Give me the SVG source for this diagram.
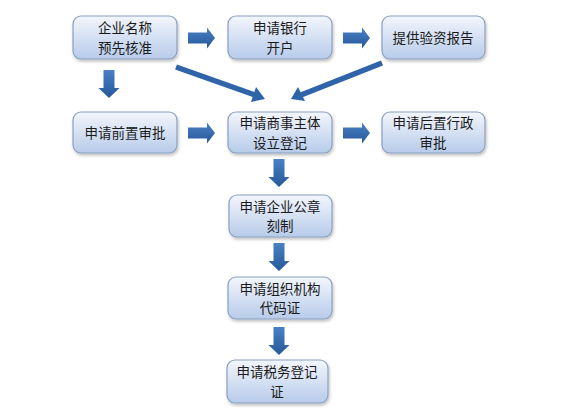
<svg xmlns="http://www.w3.org/2000/svg" width="566" height="414" viewBox="0 0 566 414">
<defs>
<linearGradient id="bg" x1="0" y1="0" x2="0" y2="1">
<stop offset="0" stop-color="#f3f6fc"/>
<stop offset="1" stop-color="#b7cbea"/>
</linearGradient>
<linearGradient id="ag" x1="0" y1="0" x2="0" y2="1">
<stop offset="0" stop-color="#4a80c4"/>
<stop offset="1" stop-color="#25589a"/>
</linearGradient>
<filter id="sh" x="-10%" y="-10%" width="130%" height="140%">
<feDropShadow dx="1" dy="2" stdDeviation="1.5" flood-color="#000" flood-opacity="0.25"/>
</filter>
<path id="ar" d="M0,-5.5 H19 V-10.5 L27,0 L19,10.5 V5.5 H0 Z"/>
<path id="ad" d="M-5.5,0 V18 H-10.5 L0,28 L10.5,18 H5.5 V0 Z"/>
</defs>
<style>
rect.b{fill:url(#bg);stroke:#8aa0c0;stroke-width:1.2;filter:url(#sh)}
text{font-family:"Noto Sans CJK SC","Noto Sans",sans-serif;font-size:13.5px;fill:#1a1a1a;text-anchor:middle}
.a{fill:url(#ag)}
.d{stroke:#2f64a8;stroke-width:5.5;fill:none}
.h{fill:#2f64a8}
</style>
<rect width="566" height="414" fill="#fff"/>
<g id="connectors">
<use href="#ar" class="a" x="188" y="38"/>
<use href="#ar" class="a" x="343" y="38"/>
<use href="#ar" class="a" x="188" y="133"/>
<use href="#ar" class="a" x="343" y="133"/>
<use href="#ad" class="a" x="109" y="70"/>
<use href="#ad" class="a" x="279" y="159"/>
<use href="#ad" class="a" x="279" y="243"/>
<use href="#ad" class="a" x="279" y="327"/>
<line class="d" x1="176" y1="67" x2="255" y2="95"/>
<polygon class="h" points="265,99 251,102 256,87"/>
<line class="d" x1="382" y1="63" x2="301" y2="95"/>
<polygon class="h" points="291,99 298,87 305,101"/>
</g>
<g id="n1"><rect class="b" x="73" y="16" width="104" height="43" rx="8"/><text x="125" y="33">企业名称</text><text x="125" y="52.5">预先核准</text></g>
<g id="n2"><rect class="b" x="228" y="16" width="104" height="43" rx="8"/><text x="280" y="33">申请银行</text><text x="280" y="52.5">开户</text></g>
<g id="n3"><rect class="b" x="382" y="16" width="103" height="43" rx="8"/><text x="433" y="42.5">提供验资报告</text></g>
<g id="n4"><rect class="b" x="73" y="112" width="104" height="41" rx="8"/><text x="125" y="137.5">申请前置审批</text></g>
<g id="n5"><rect class="b" x="228" y="112" width="104" height="41" rx="8"/><text x="280" y="128">申请商事主体</text><text x="280" y="147.5">设立登记</text></g>
<g id="n6"><rect class="b" x="382" y="112" width="103" height="41" rx="8"/><text x="433" y="128">申请后置行政</text><text x="433" y="147.5">审批</text></g>
<g id="n7"><rect class="b" x="229" y="195" width="103" height="42" rx="8"/><text x="280" y="211.5">申请企业公章</text><text x="280" y="231">刻制</text></g>
<g id="n8"><rect class="b" x="228" y="277" width="104" height="42" rx="8"/><text x="280" y="293.5">申请组织机构</text><text x="280" y="313">代码证</text></g>
<g id="n9"><rect class="b" x="227" y="360" width="101" height="43" rx="8"/><text x="277" y="377">申请税务登记</text><text x="277" y="396.5">证</text></g>
</svg>
